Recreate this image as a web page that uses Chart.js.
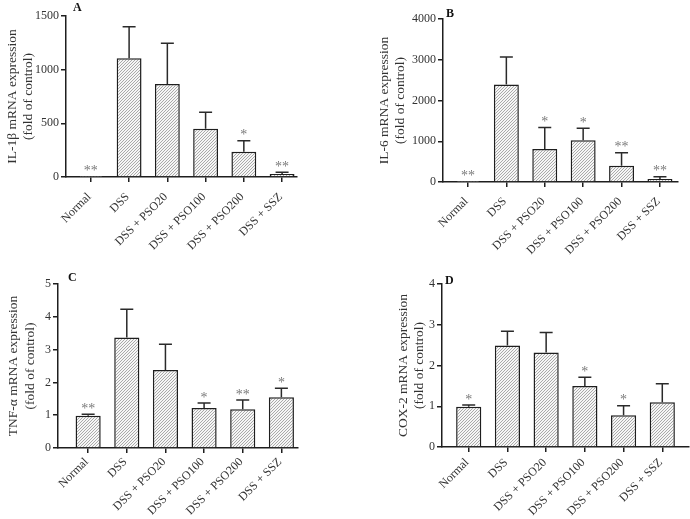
<!DOCTYPE html>
<html><head><meta charset="utf-8">
<script src="https://cdn.jsdelivr.net/npm/chart.js@4.4.1/dist/chart.umd.min.js"></script>
<style>
html,body{margin:0;padding:0;background:#fff;}
#wrap{position:relative;width:690px;height:519px;overflow:hidden;background:#fff;}
.p{position:absolute;}
</style></head><body>
<div id="wrap">
<div class="p" style="left:0;top:0;width:345px;height:260px"><canvas id="cA"></canvas></div>
<div class="p" style="left:345px;top:0;width:345px;height:260px"><canvas id="cB"></canvas></div>
<div class="p" style="left:0;top:260px;width:345px;height:259px"><canvas id="cC"></canvas></div>
<div class="p" style="left:345px;top:260px;width:345px;height:259px"><canvas id="cD"></canvas></div>
</div>
<script>
// ---- data ----
const categories = ['Normal', 'DSS', 'DSS + PSO20', 'DSS + PSO100', 'DSS + PSO200', 'DSS + SSZ'];

const il1bMean = [1, 1106, 866, 450, 236, 28];
const il1bErr  = [0, 294, 379, 153, 102, 16];
const il1bSig  = ['**', '', '', '', '*', '**'];
const il1bTicks = [0, 500, 1000, 1500];

const il6Mean = [1, 2392, 811, 1025, 401, 74];
const il6Err  = [0, 674, 524, 295, 319, 56];
const il6Sig  = ['**', '', '*', '*', '**', '**'];
const il6Ticks = [0, 1000, 2000, 3000, 4000];

const tnfMean = [0.98, 3.37, 2.38, 1.22, 1.18, 1.55];
const tnfErr  = [0.05, 0.86, 0.78, 0.15, 0.28, 0.27];
const tnfSig  = ['**', '', '', '*', '**', '*'];
const tnfTicks = [0, 1, 2, 3, 4, 5];

const coxMean = [0.99, 2.49, 2.32, 1.50, 0.78, 1.10];
const coxErr  = [0.04, 0.35, 0.49, 0.21, 0.23, 0.45];
const coxSig  = ['*', '', '', '*', '*', ''];
const coxTicks = [0, 1, 2, 3, 4];

const yTitleA = 'IL-1β mRNA expression';
const yTitleB = 'IL-6 mRNA expression';
const yTitleC = 'TNF-α mRNA expression';
const yTitleD = 'COX-2 mRNA expression';
const yTitle2 = '(fold of control)';

// ---- styling ----
const FONT = '"Liberation Serif","Times New Roman",serif';
const TEXT = '#333';
const LINE = '#1e1e1e';

const tile = document.createElement('canvas');
tile.width = 3; tile.height = 3;
(function () {
  const g = tile.getContext('2d');
  g.fillStyle = '#f6f6f6'; g.fillRect(0, 0, 3, 3);
  g.strokeStyle = '#a2a2a2'; g.lineWidth = 0.9;
  g.beginPath();
  g.moveTo(-1, 4); g.lineTo(4, -1);
  g.moveTo(-1, 1); g.lineTo(1, -1);
  g.moveTo(2, 4); g.lineTo(4, 2);
  g.stroke();
})();

function makePanel(id, p) {
  const canvas = document.getElementById(id);
  const ctx = canvas.getContext('2d');
  const hatch = ctx.createPattern(tile, 'repeat');
  const annot = {
    id: 'annot',
    afterDatasetsDraw(chart) {
      const c = chart.ctx, xs = chart.scales.x, ys = chart.scales.y;
      c.save();
      // error bars
      c.strokeStyle = '#2a2a2a'; c.lineWidth = 1.5;
      p.mean.forEach((m, i) => {
        if (!p.err[i]) return;
        const x = xs.getPixelForValue(i);
        const y0 = ys.getPixelForValue(m);
        const y1 = ys.getPixelForValue(m + p.err[i]);
        c.beginPath();
        c.moveTo(x, y0); c.lineTo(x, y1);
        c.moveTo(x - 6.5, y1); c.lineTo(x + 6.5, y1);
        c.stroke();
      });
      // significance marks
      c.fillStyle = '#7a7a7a';
      c.font = '14px ' + FONT;
      c.textAlign = 'center'; c.textBaseline = 'alphabetic';
      p.sig.forEach((s, i) => {
        if (!s) return;
        const x = xs.getPixelForValue(i);
        const y = ys.getPixelForValue(p.mean[i] + p.err[i]);
        c.fillText(s, x, y - 1.5);
      });
      // panel letter
      c.fillStyle = '#111';
      c.font = 'bold 12px ' + FONT;
      c.textAlign = 'left';
      c.fillText(p.letter, p.lx, p.ly);
      c.restore();
    }
  };
  const axisGrid = { display: true, offset: false, drawOnChartArea: false, drawTicks: true, tickLength: 5, color: LINE, lineWidth: 1.5 };
  const axisBorder = { display: true, color: LINE, width: 1.5 };
  return new Chart(ctx, {
    type: 'bar',
    data: {
      datasets: [{
        data: p.mean.map((v, i) => ({ x: i, y: v })),
        backgroundColor: hatch,
        borderColor: LINE,
        borderWidth: 1.5,
        barPercentage: 0.65,
        categoryPercentage: 1
      }]
    },
    options: {
      responsive: true,
      maintainAspectRatio: false,
      animation: false,
      layout: { padding: { left: 0, top: p.top, right: p.right, bottom: 0 } },
      plugins: { legend: { display: false }, tooltip: { enabled: false } },
      scales: {
        x: {
          type: 'linear', min: p.xMin, max: p.xMax, offset: false, bounds: 'data',
          afterBuildTicks: s => { s.ticks = categories.map((c, i) => ({ value: i })); },
          afterFit: s => { s.height = p.xH; },
          ticks: {
            autoSkip: false, maxRotation: 45, minRotation: 45, color: TEXT, padding: p.lblPad, labelOffset: -1.5,
            font: { family: FONT, size: 12, lineHeight: 1.2 },
            callback: v => categories[v]
          },
          grid: axisGrid, border: axisBorder
        },
        y: {
          type: 'linear', min: 0, max: p.ticks[p.ticks.length - 1],
          afterBuildTicks: s => { s.ticks = p.ticks.map(v => ({ value: v })); },
          afterFit: s => { s.width = p.yW; },
          ticks: { color: TEXT, padding: 2, font: { family: FONT, size: 12 }, callback: v => String(v) },
          grid: axisGrid, border: axisBorder,
          title: {
            display: true, text: [p.title, yTitle2], color: TEXT,
            font: { family: FONT, size: 13.5, lineHeight: 1.25 },
            padding: { top: p.titlePad, bottom: 0 }
          }
        }
      }
    },
    plugins: [annot]
  });
}

makePanel('cA', { mean: il1bMean, err: il1bErr, sig: il1bSig, ticks: il1bTicks, title: yTitleA, letter: 'A',
  top: 16, right: 48, xH: 83, yW: 66, xMin: -0.65, xMax: 5.39, titlePad: 3.6, lblPad: 8, lx: 73, ly: 10.5 });
makePanel('cB', { mean: il6Mean, err: il6Err, sig: il6Sig, ticks: il6Ticks, title: yTitleB, letter: 'B',
  top: 19, right: 12, xH: 78, yW: 98, xMin: -0.65, xMax: 5.47, titlePad: 30.6, lblPad: 7.5, lx: 101, ly: 17 });
makePanel('cC', { mean: tnfMean, err: tnfErr, sig: tnfSig, ticks: tnfTicks, title: yTitleC, letter: 'C',
  top: 24, right: 47, xH: 71, yW: 58, xMin: -0.78, xMax: 5.43, titlePad: 5, lblPad: 2, lx: 68, ly: 20.7 });
makePanel('cD', { mean: coxMean, err: coxErr, sig: coxSig, ticks: coxTicks, title: yTitleD, letter: 'D',
  top: 24, right: 1, xH: 72, yW: 97, xMin: -0.69, xMax: 5.69, titlePad: 49.6, lblPad: 3.6, lx: 100, ly: 24 });
</script>
</body></html>
